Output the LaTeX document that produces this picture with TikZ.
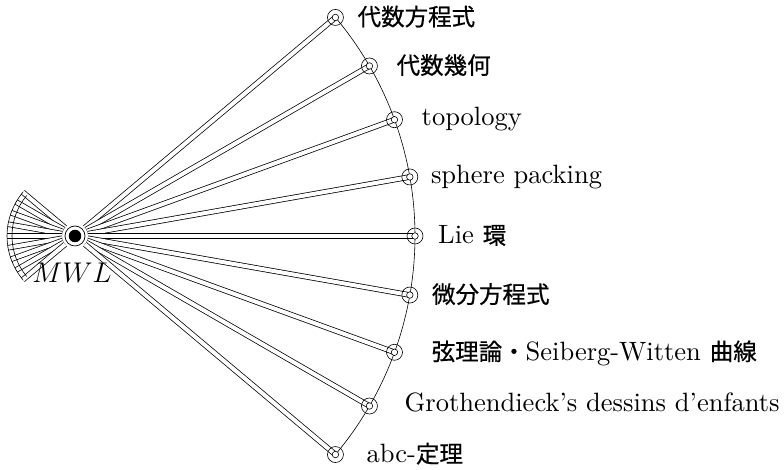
\documentclass[tikz,border=0pt]{standalone}
\usepackage{fontspec}
\setmainfont{lmroman10-regular.otf}[Ligatures=TeX, ItalicFont=lmroman10-italic.otf, BoldFont=lmroman10-bold.otf]
\newfontfamily\cjk{Noto Sans CJK JP}[FakeBold=0.6]
\newcommand\cj[1]{{\fontsize{23.5}{27}\selectfont\cjk #1}}
\usetikzlibrary{calc}
\begin{document}
\begin{tikzpicture}[x=1pt,y=1pt,
  band/.style={draw=black, line width=0.75pt, double=white, double distance=4pt},
  tgt/.style={circle, draw, line width=0.6pt, minimum size=16pt, inner sep=0pt},
  tgtin/.style={circle, draw, fill=white, line width=0.6pt, minimum size=6.5pt, inner sep=0pt},
  lbl/.style={anchor=base west, inner sep=0pt, font=\fontsize{26.5}{30}\selectfont}]
\useasboundingbox (0,0) rectangle (784,470);
\coordinate (C) at (75,234);
% targets
\foreach \i/\a in {1/40,2/30,3/20,4/10,5/0,6/-10,7/-20,8/-30,9/-40}
  \coordinate (t\i) at ($(C)+(\a:340)$);
% left fan
\foreach \a [count=\k] in {140,150,...,220}
  \coordinate (f\k) at ($(C)+(\a:68)$);
\foreach \k in {1,...,9}
  \draw[band, shorten <=13pt] (C) -- (f\k);
\draw[line width=0.6pt] (f1) arc[start angle=140, end angle=220, radius=68];
\draw[line width=0.6pt] ($(C)+(140:63)$) arc[start angle=140, end angle=220, radius=63];
% right bands
\foreach \i in {1,...,9}
  \draw[band, shorten <=13pt] (C) -- (t\i);
% arc through targets
\draw[line width=0.6pt] (t1) arc[start angle=40, end angle=-40, radius=340];
% target circles
\foreach \i in {1,...,9}{
  \node[tgt] (o\i) at (t\i) {};
  \node[tgtin] (n\i) at (t\i) {};
}
% centre
\node[circle, draw, line width=0.7pt, minimum size=20pt, inner sep=0pt] (ring) at (C) {};
\node[circle, fill=black, minimum size=12.5pt, inner sep=0pt] (c) at (C) {};
\node[font=\fontsize{24.88}{30}\selectfont, scale=1.145] (m) at (72,197) {$MWL$};
% labels
\node[lbl] (l1) at ($(t1)+(22,-8)$) {\cj{代数方程式}};
\node[lbl] (l2) at ($(t2)+(27,-8)$) {\cj{代数幾何}};
\node[lbl] (l3) at ($(t3)+(27,-6)$) {topology};
\node[lbl] (l4) at ($(t4)+(21,-7)$) {sphere packing};
\node[lbl] (l5) at ($(t5)+(23,-8)$) {Lie \cj{環}};
\node[lbl] (l6) at ($(t6)+(22,-8)$) {\cj{微分方程式}};
\node[lbl] (l7) at ($(t7)+(37,-8)$) {\cj{弦理論・}Seiberg-Witten \cj{曲線}};
\node[lbl] (l8) at ($(t8)+(35,-6)$) {Grothendieck's dessins d'enfants};
\node[lbl] (l9) at ($(t9)+(31,-8)$) {abc-\cj{定理}};
\end{tikzpicture}
\end{document}
